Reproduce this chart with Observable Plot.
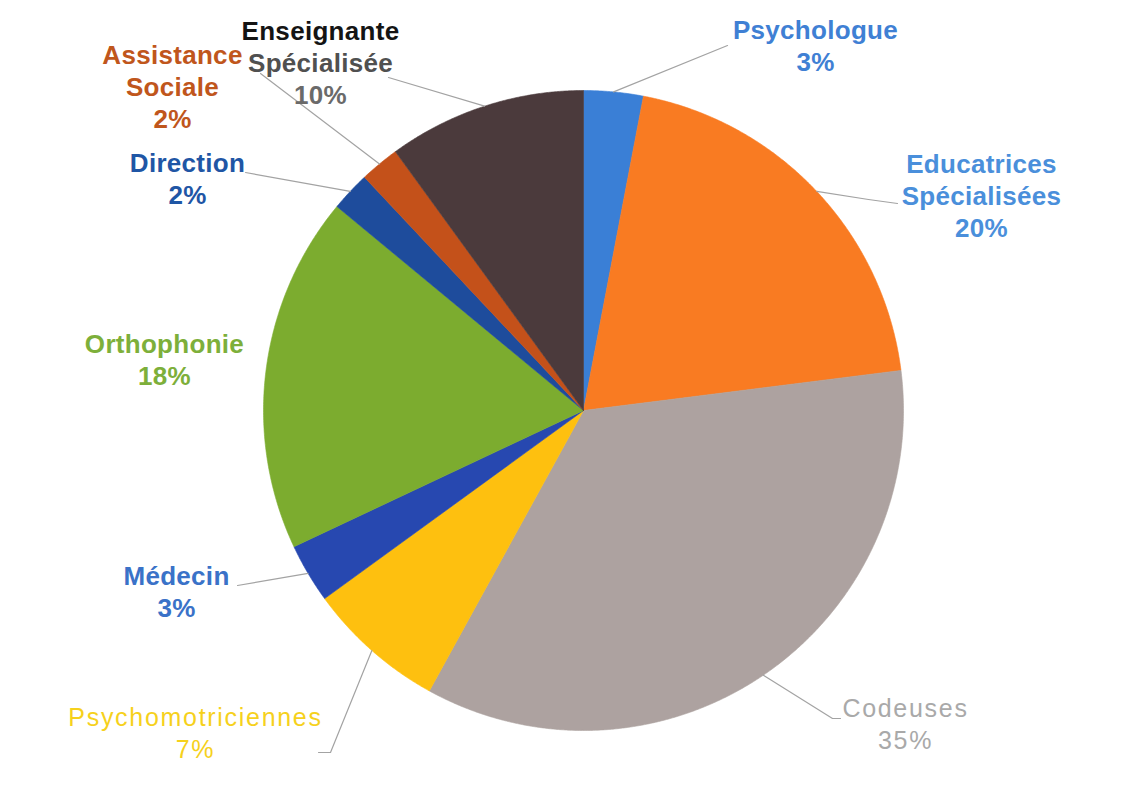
<!DOCTYPE html>
<html><head><meta charset="utf-8">
<script src="https://cdn.jsdelivr.net/npm/d3@7"></script>
<script src="https://cdn.jsdelivr.net/npm/@observablehq/plot@0.6"></script>
<style>
body{margin:0;background:#fff;}
text[aria-label="light-labels"]{letter-spacing:1.7px;}
text[aria-label="bold-labels"]{letter-spacing:0.3px;}
</style>
</head><body><div id="chart"></div>
<script>
// ---- data ----
const categories = ["Psychologue","Educatrices Spécialisées","Codeuses","Psychomotriciennes","Médecin","Orthophonie","Direction","Assistance Sociale","Enseignante Spécialisée"];
const shares = [3, 20, 35, 7, 3, 18, 2, 2, 10];
const labelLines = [["Psychologue"],["Educatrices","Spécialisées"],["Codeuses"],["Psychomotriciennes"],["Médecin"],["Orthophonie"],["Direction"],["Assistance","Sociale"],["Enseignante","Spécialisée"]];

// ---- styles ----
const sliceColors = ["#3a7fd6","#f97b22","#ada2a0","#fec00f","#2748b0","#7cac2f","#1e4c9c","#c4511a","#4b3a3c"];
const labelColors = [
  ["#3f80d4","#3f80d4"],
  ["#4a8fdb","#4a8fdb","#4a8fdb"],
  ["#a9a9a9","#a9a9a9"],
  ["#f6d11c","#f6d11c"],
  ["#3a72c8","#3a72c8"],
  ["#7daf3a","#7daf3a"],
  ["#1f56a5","#1f56a5"],
  ["#c0561c","#c0561c","#c0561c"],
  ["#141414","#505050","#6a6a6a"]
];
const labelBold = [true,true,false,false,true,true,true,true,true];

// ---- layout (pixels) ----
const W = 1148, H = 804, CX = 583, CY = 410, R = 320, LINE = 32;
const labelCenters = [[815,46],[981,196],[905,724],[195,733],[176,592],[164,360],[187,179],[172,87],[320,63]];
const leaderEnds = [
  [[727,45]],
  [[868,199],[897,203]],
  [[832,718],[840,718]],
  [[330,752],[318,752]],
  [[237,585]],
  null,
  [[245,172]],
  [[260,73]],
  [[388,77]]
];

// ---- build geometry from the values ----
const arcs = d3.pie().sort(null).value(d => d)(shares);
const polyPts = [];
arcs.forEach((a, i) => {
  const name = categories[i];
  polyPts.push({name, x: CX, y: CY});
  const n = Math.max(4, Math.ceil((a.endAngle - a.startAngle) / 0.005));
  for (let k = 0; k <= n; k++) {
    const t = a.startAngle + (a.endAngle - a.startAngle) * k / n;
    polyPts.push({name, x: CX + R * Math.sin(t), y: CY - R * Math.cos(t)});
  }
  polyPts.push({name, x: CX, y: CY});
});

const leaderPts = [];
arcs.forEach((a, i) => {
  if (!leaderEnds[i]) return;
  const m = (a.startAngle + a.endAngle) / 2;
  leaderPts.push({id: i, x: CX + R * Math.sin(m), y: CY - R * Math.cos(m)});
  leaderEnds[i].forEach(([x, y]) => leaderPts.push({id: i, x, y}));
});

const textRows = [];
categories.forEach((c, i) => {
  const lines = labelLines[i].concat([shares[i] + "%"]);
  const [lx, ly] = labelCenters[i];
  lines.forEach((t, k) => {
    textRows.push({text: t, x: lx, y: ly + (k - (lines.length - 1) / 2) * LINE, color: labelColors[i][k], bold: labelBold[i]});
  });
});

const chart = Plot.plot({
  width: W, height: H,
  margin: 0,
  style: {background: "#fff", fontFamily: "'Liberation Sans', Arial, sans-serif"},
  x: {domain: [0, W], range: [0, W], axis: null},
  y: {domain: [0, H], range: [0, H], axis: null},
  color: {domain: categories, range: sliceColors},
  marks: [
    Plot.line(polyPts, {x: "x", y: "y", z: "name", fill: "name", stroke: "name", strokeWidth: 0.6, curve: "linear"}),
    Plot.line(leaderPts, {x: "x", y: "y", z: "id", stroke: "#a3a3a3", strokeWidth: 1.2, curve: "linear"}),
    Plot.text(textRows.filter(d => d.bold), {x: "x", y: "y", text: "text", fill: d => d.color, fontSize: 26, fontWeight: "bold", textAnchor: "middle", lineAnchor: "middle", ariaLabel: () => "bold-labels"}),
    Plot.text(textRows.filter(d => !d.bold), {x: "x", y: "y", text: "text", fill: d => d.color, fontSize: 25, fontWeight: "normal", textAnchor: "middle", lineAnchor: "middle", ariaLabel: () => "light-labels"})
  ]
});
document.getElementById("chart").appendChild(chart);
</script>
</body></html>
